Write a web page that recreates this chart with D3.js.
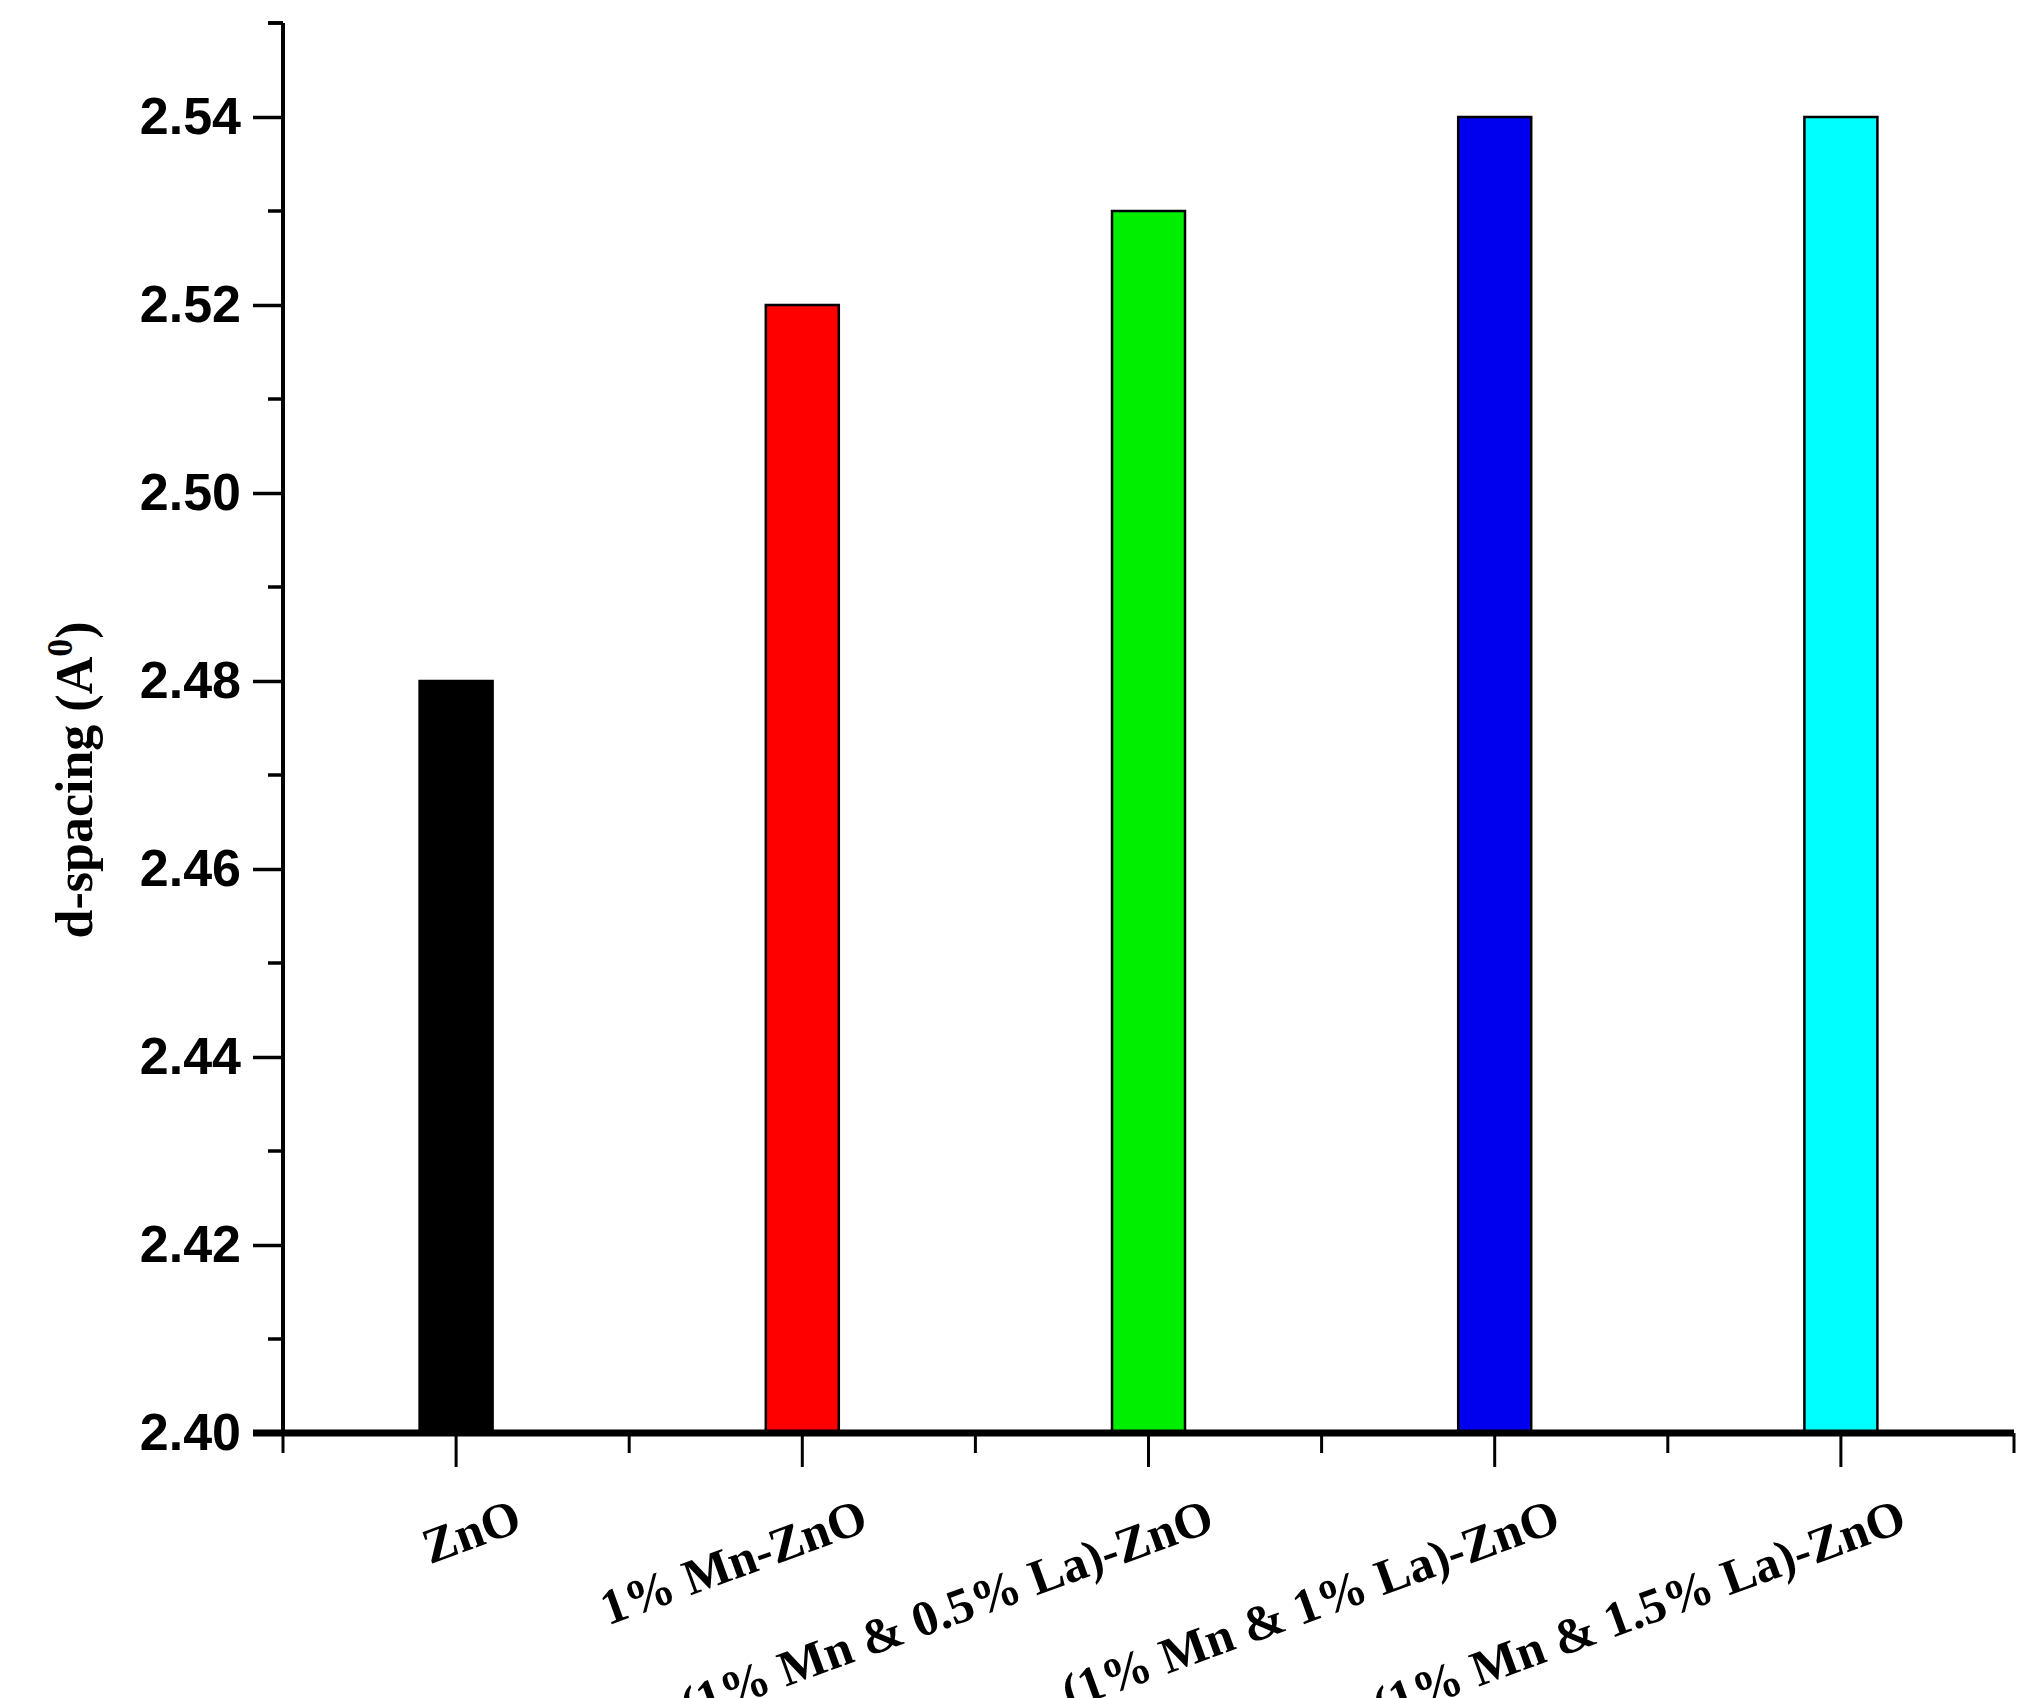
<!DOCTYPE html>
<html>
<head>
<meta charset="utf-8">
<script src="https://cdn.jsdelivr.net/npm/d3@7"></script>
<style>
  body { margin: 0; background: #fff; }
  .tick text { font-family: Arial, "Liberation Sans", sans-serif; font-weight: bold; }
</style>
</head>
<body>
<svg id="chart" width="2037" height="1698"></svg>
<script>
'use strict';

var categories = ["ZnO", "1% Mn-ZnO", "(1% Mn & 0.5% La)-ZnO", "(1% Mn & 1% La)-ZnO", "(1% Mn & 1.5% La)-ZnO"];
var values = [2.48, 2.52, 2.53, 2.54, 2.54];
var colors = ["#000000", "#ff0000", "#00ee00", "#0000ee", "#00ffff"];
var yTicks = [2.40, 2.42, 2.44, 2.46, 2.48, 2.50, 2.52, 2.54];

(function(){
var svg = d3.select("#chart");
var mLeft = 283, mRight = 2014, mTop = 23, mBottom = 1433;

var x = d3.scaleBand().domain(categories).range([mLeft, mRight]);
var y = d3.scaleLinear().domain([2.40, 2.55]).range([mBottom, mTop]);
var barW = 73;

// bars
svg.selectAll("rect.bar")
	.data(values)
	.enter()
	.append("rect")
	.attr("class", "bar")
	.attr("x", function(d, i){ return x(categories[i]) + x.bandwidth() / 2 - barW / 2; })
	.attr("y", function(d){ return y(d); })
	.attr("width", barW)
	.attr("height", function(d){ return mBottom - y(d); })
	.attr("fill", function(d, i){ return colors[i]; })
	.attr("stroke", "#000")
	.attr("stroke-width", 2.5);

// y axis
var yAxis = svg.append("g").attr("transform", "translate(" + mLeft + ",0)")
	.call(d3.axisLeft(y).tickValues(yTicks).tickFormat(d3.format(".2f")).tickSize(30).tickPadding(12));
yAxis.selectAll(".tick text").style("font-size", "52px");
yAxis.selectAll("line").attr("stroke-width", 3.5);
yAxis.select(".domain").attr("stroke-width", 4).attr("d", "M0," + mTop + "V" + mBottom);
var minorY = d3.range(0, 8).map(function(i){ return 2.41 + i * 0.02; }).concat([2.55]);
svg.selectAll("line.minory")
	.data(minorY)
	.enter()
	.append("line")
	.attr("x1", mLeft - 15).attr("x2", mLeft)
	.attr("y1", function(d){ return y(d); }).attr("y2", function(d){ return y(d); })
	.attr("stroke", "#000").attr("stroke-width", 3.5);

// x axis
var xAxis = svg.append("g").attr("transform", "translate(0," + mBottom + ")")
	.call(d3.axisBottom(x).tickSize(34).tickFormat(""));
xAxis.selectAll("line").attr("stroke-width", 3);
xAxis.select(".domain").remove();
svg.append("line")
	.attr("x1", mLeft - 30).attr("x2", mRight)
	.attr("y1", mBottom).attr("y2", mBottom)
	.attr("stroke", "#000").attr("stroke-width", 7);
var edges = categories.map(function(c){ return x(c); }).concat([mRight]);
svg.selectAll("line.minorx")
	.data(edges)
	.enter()
	.append("line")
	.attr("x1", function(d){ return d; }).attr("x2", function(d){ return d; })
	.attr("y1", mBottom).attr("y2", mBottom + 20)
	.attr("stroke", "#000").attr("stroke-width", 3);

// x labels
svg.selectAll("text.xlab")
	.data(categories)
	.enter()
	.append("text")
	.attr("class", "xlab")
	.attr("text-anchor", "end")
	.attr("transform", function(d){
		return "translate(" + (x(d) + x.bandwidth() / 2 + 68) + ",1530) rotate(-20)";
	})
	.style("font-family", "'Liberation Serif', 'Times New Roman', serif")
	.style("font-weight", "bold")
	.style("font-size", "50px")
	.text(function(d){ return d; });

// y title
var yt = svg.append("text")
	.attr("transform", "translate(92,780) rotate(-90)")
	.attr("text-anchor", "middle")
	.style("font-family", "'Liberation Serif', 'Times New Roman', serif")
	.style("font-weight", "bold")
	.style("font-size", "52px");
yt.append("tspan").text("d-spacing (A");
yt.append("tspan").attr("dy", -20).style("font-size", "36px").text("0");
yt.append("tspan").attr("dy", 20).text(")");
})();
</script>
</body>
</html>
